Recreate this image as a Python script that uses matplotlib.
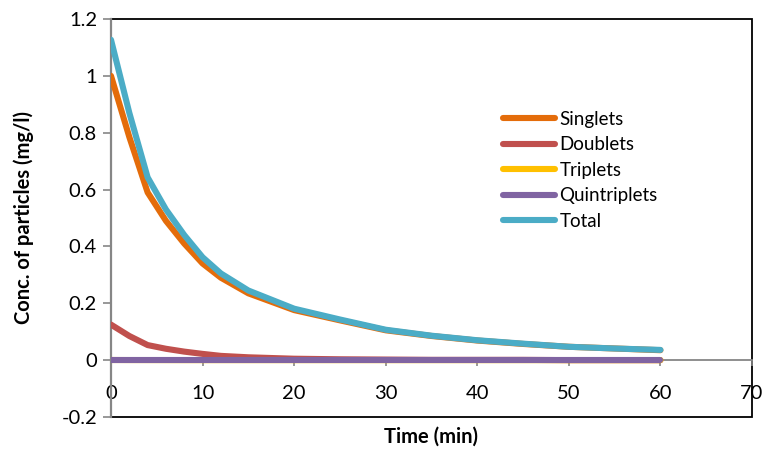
import matplotlib
matplotlib.use("Agg")
import matplotlib.pyplot as plt
from matplotlib.patches import Rectangle

# time points (min) and concentrations (mg/l)
time = [0, 2, 4, 6, 8, 10, 12, 15, 20, 25, 30, 35, 40, 45, 50, 55, 60]
singlets = [1.0, 0.785, 0.59, 0.49, 0.41, 0.34, 0.29, 0.235, 0.176, 0.14, 0.105,
            0.085, 0.069, 0.057, 0.047, 0.041, 0.035]
doublets = [0.125, 0.085, 0.053, 0.04, 0.03, 0.022, 0.015, 0.01, 0.005, 0.003,
            0.002, 0.001, 0.001, 0.001, 0.0, 0.0, 0.0]
triplets = [0.0005, 0.0003, 0.0002, 0.0001, 0.0, 0.0, 0.0, 0.0, 0.0, 0.0,
            0.0, 0.0, 0.0, 0.0, 0.0, 0.0, 0.0]
quintriplets = [0.0] * len(time)
total = [1.127, 0.87, 0.643, 0.53, 0.44, 0.362, 0.305, 0.245, 0.181, 0.143,
         0.107, 0.086, 0.07, 0.058, 0.047, 0.041, 0.036]

series = [
    ("Singlets", singlets, "#E46C0A"),
    ("Doublets", doublets, "#C0504D"),
    ("Triplets", triplets, "#FFC000"),
    ("Quintriplets", quintriplets, "#8064A2"),
    ("Total", total, "#4BACC6"),
]

plt.rcParams["font.family"] = ["Lato", "DejaVu Sans"]

fig = plt.figure(figsize=(7.66, 4.51), dpi=100)
ax = fig.add_axes([111 / 766, 1 - 417 / 451, (752 - 111) / 766, (417 - 19) / 451])

for name, vals, color in series:
    ax.plot(time, vals, color=color, lw=4.4, label=name, zorder=3,
            solid_capstyle="round", solid_joinstyle="round")

ax.set_xlim(0, 70)
ax.set_ylim(-0.2, 1.2)
ax.set_xticks(range(0, 71, 10))
ax.set_yticks([-0.2, 0, 0.2, 0.4, 0.6, 0.8, 1.0, 1.2])
ax.set_yticklabels(["-0.2", "0", "0.2", "0.4", "0.6", "0.8", "1", "1.2"])

# x axis crosses at zero, Excel style
ax.spines["bottom"].set_position(("data", 0))
ax.spines["bottom"].set_color("#868686")
ax.spines["bottom"].set_linewidth(1.3)
ax.spines["left"].set_color("#868686")
ax.spines["left"].set_linewidth(1.6)
ax.spines["top"].set_visible(False)
ax.spines["right"].set_visible(False)
ax.add_patch(Rectangle((0, 0), 1, 1, transform=ax.transAxes, fill=False,
                       edgecolor="black", lw=1.3, zorder=0, clip_on=False))

ax.tick_params(axis="x", direction="out", length=4, width=1.2, color="#868686",
               pad=14, labelsize=14.5)
ax.tick_params(axis="y", direction="out", length=6, width=1.2, color="#868686",
               pad=4, labelsize=14.5)

ax.set_ylabel("Conc. of particles (mg/l)", fontsize=14.5, fontweight="bold", labelpad=20)
fig.text((111 + 752) / 2 / 766, 1 - 437 / 451, "Time (min)", fontsize=14.5,
         fontweight="bold", ha="center", va="center")

ax.legend(loc="upper left", bbox_to_anchor=(503 / 766, 1 - 111 / 451),
          bbox_transform=fig.transFigure, frameon=False, fontsize=13.5,
          handlelength=2.75, handletextpad=0.25, labelspacing=0.45,
          borderpad=0, borderaxespad=0)

fig.savefig("out.png", dpi=100)
